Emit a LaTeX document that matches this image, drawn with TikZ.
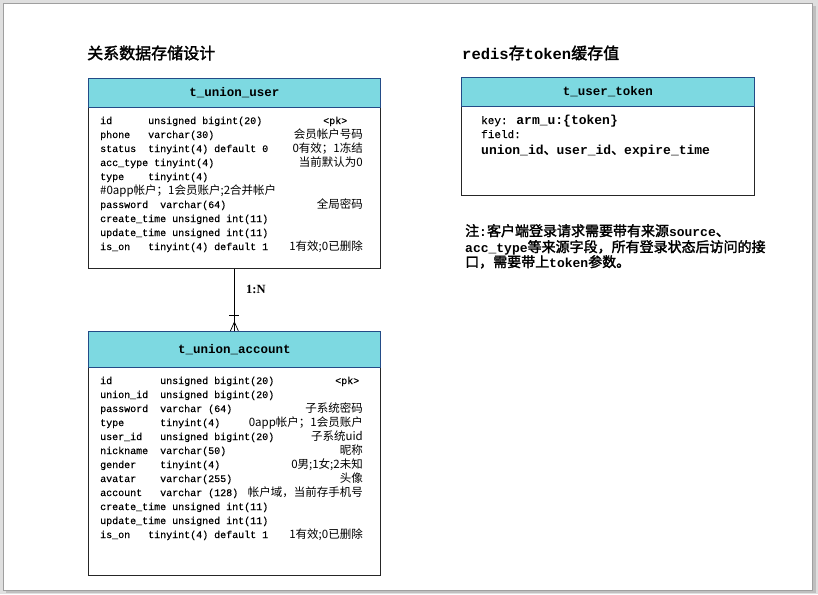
\documentclass[tikz,border=0pt]{standalone}
\usepackage{fontspec}
\newfontfamily\mono{Liberation Mono}
\newfontfamily\monor[FakeBold=0.3]{Liberation Mono}
\newfontfamily\cjk[AutoFakeBold=2]{Noto Sans CJK SC}
\newfontfamily\serifb{Liberation Serif}
\definecolor{hdrfill}{RGB}{125,217,225}
\definecolor{hdrline}{RGB}{35,75,135}
\newcommand\enb[2]{{\mono\bfseries\fontsize{#1}{#1}\selectfont #2}}
\newcommand\zhb[2]{{\cjk\bfseries\fontsize{#1}{#1}\selectfont #2}}
\tikzset{
  hdrbox/.style={draw=hdrline, fill=hdrfill, line width=0.8pt, anchor=north west, inner sep=0pt,
    font=\mono\bfseries\fontsize{12.5}{14}\selectfont},
  bodybox/.style={draw=black!85, fill=white, line width=0.8pt, anchor=north west, inner sep=0pt},
  cell/.style={anchor=base west, inner sep=0pt, font=\monor\fontsize{10}{12}\selectfont},
  cmt/.style={anchor=base east, inner sep=0pt, font=\cjk\fontsize{11.5}{13}\selectfont},
  zcell/.style={anchor=base west, inner sep=0pt, font=\cjk\fontsize{11.5}{13}\selectfont},
  plain/.style={anchor=base west, inner sep=0pt},
}
\newcommand\frow[5]{%
  \node[cell] (#1n) at (100,#2) {#3};
  \node[cell] (#1t) at (#4,#2) {#5};}
\begin{document}
\begin{tikzpicture}[x=1pt,y=-1pt]
\useasboundingbox (0,0) rectangle (818,594);
% page frame
\fill[gray!25] (0,0) rectangle (818,594);
\fill[gray!50] (6,6) rectangle (816,593);
\filldraw[fill=white, draw=gray!75, line width=0.8pt] (3,3) rectangle (812,590);

% titles
\node[anchor=west, inner sep=0pt] (title1) at (87,53) {\zhb{16}{关系数据存储设计}};
\node[anchor=west, inner sep=0pt] (title2) at (462,53) {\enb{15.5}{redis}\zhb{16}{存}\enb{15.5}{token}\zhb{16}{缓存值}};

% t_union_user
\node[bodybox, minimum width=292pt, minimum height=161pt] (ub) at (88,107) {};
\node[hdrbox, minimum width=292pt, minimum height=29pt] (uh) at (88,78) {t\_union\_user};
\frow{u1}{124}{id}{148}{unsigned bigint(20)}
\node[cell] (u1c) at (323,124) {<pk>};
\frow{u2}{138}{phone}{148}{varchar(30)}
\node[cmt] (u2c) at (363,138) {会员帐户号码};
\frow{u3}{152}{status}{148}{tinyint(4) default 0}
\node[cmt] (u3c) at (363,152) {0有效；1冻结};
\frow{u4}{166}{acc\_type}{154}{tinyint(4)}
\node[cmt] (u4c) at (363,166) {当前默认为0};
\frow{u5}{180}{type}{148}{tinyint(4)}
\node[zcell] (u6n) at (100,194) {\#0app帐户；1会员账户;2合并帐户};
\frow{u7}{208}{password}{160}{varchar(64)}
\node[cmt] (u7c) at (363,208) {全局密码};
\frow{u8}{222}{create\_time}{172}{unsigned int(11)}
\frow{u9}{236}{update\_time}{172}{unsigned int(11)}
\frow{u10}{250}{is\_on}{148}{tinyint(4) default 1}
\node[cmt] (u10c) at (363,250) {1有效;0已删除};

% t_union_account
\node[bodybox, minimum width=292pt, minimum height=208pt] (ab) at (88,367) {};
\node[hdrbox, minimum width=292pt, minimum height=36pt] (ah) at (88,331) {t\_union\_account};
\frow{a1}{384}{id}{160}{unsigned bigint(20)}
\node[cell] (a1c) at (335,384) {<pk>};
\frow{a2}{398}{union\_id}{160}{unsigned bigint(20)}
\frow{a3}{412}{password}{160}{varchar (64)}
\node[cmt] (a3c) at (363,412) {子系统密码};
\frow{a4}{426}{type}{160}{tinyint(4)}
\node[cmt] (a4c) at (363,426) {0app帐户；1会员账户};
\frow{a5}{440}{user\_id}{160}{unsigned bigint(20)}
\node[cmt] (a5c) at (363,440) {子系统uid};
\frow{a6}{454}{nickname}{160}{varchar(50)}
\node[cmt] (a6c) at (363,454) {昵称};
\frow{a7}{468}{gender}{160}{tinyint(4)}
\node[cmt] (a7c) at (363,468) {0男;1女;2未知};
\frow{a8}{482}{avatar}{160}{varchar(255)}
\node[cmt] (a8c) at (363,482) {头像};
\frow{a9}{496}{account}{160}{varchar (128)}
\node[cmt] (a9c) at (363,496) {帐户域，当前存手机号};
\frow{a10}{510}{create\_time}{172}{unsigned int(11)}
\frow{a11}{524}{update\_time}{172}{unsigned int(11)}
\frow{a12}{538}{is\_on}{148}{tinyint(4) default 1}
\node[cmt] (a12c) at (363,538) {1有效;0已删除};

% relationship 1:N
\draw[line width=0.8pt] (ub.south) -- (ah.north);
\draw[line width=0.8pt] ([xshift=-5pt,yshift=16pt]ah.north) -- ([xshift=5pt,yshift=16pt]ah.north);
\draw[line width=0.7pt] ([yshift=9pt]ah.north) -- ([xshift=-4pt]ah.north)
  ([yshift=9pt]ah.north) -- (ah.north)
  ([yshift=9pt]ah.north) -- ([xshift=4pt]ah.north);
\node[anchor=west, inner sep=0pt, font=\serifb\bfseries\fontsize{12.5}{14}\selectfont] (rel) at (246,289) {1:N};

% t_user_token
\node[bodybox, minimum width=293pt, minimum height=89pt] (tb) at (461,106) {};
\node[hdrbox, minimum width=293pt, minimum height=29pt] (th) at (461,77) {t\_user\_token};
\node[plain] (tk1) at (481,124) {{\monor\fontsize{11}{12}\selectfont key: }\enb{13}{arm\_u:\{token\}}};
\node[plain] (tk2) at (481,138) {{\monor\fontsize{11}{12}\selectfont field:}};
\node[plain] (tk3) at (481,154) {\enb{13}{union\_id}\zhb{13}{、}\enb{13}{user\_id}\zhb{13}{、}\enb{13}{expire\_time}};

% note
\node[plain] (n1) at (465,236) {\zhb{14}{注}\enb{13}{:}\zhb{14}{客户端登录请求需要带有来源}\enb{13}{source}\zhb{14}{、}};
\node[plain] (n2) at (465,252) {\enb{13}{acc\_type}\zhb{14}{等来源字段，所有登录状态后访问的接}};
\node[plain] (n3) at (465,267) {\zhb{14}{口，需要带上}\enb{13}{token}\zhb{14}{参数。}};
\end{tikzpicture}
\end{document}
